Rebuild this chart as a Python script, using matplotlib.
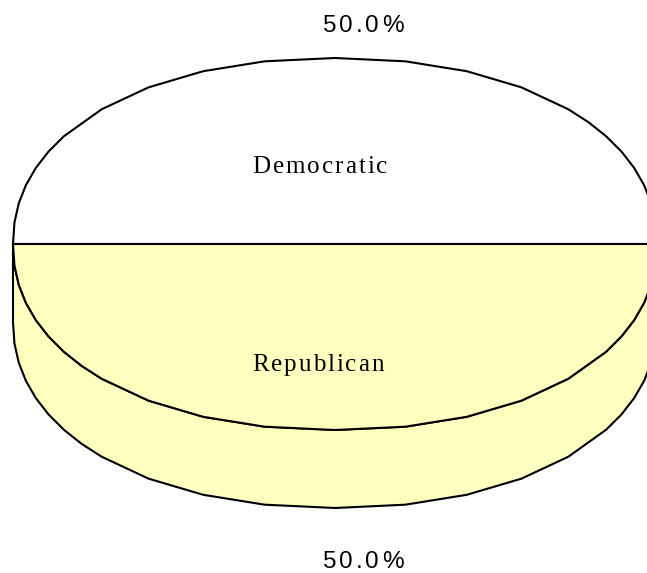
import numpy as np
import matplotlib
matplotlib.use('Agg')
import matplotlib.pyplot as plt
from matplotlib.patches import Polygon
from matplotlib.font_manager import FontProperties, get_font, findfont

# ---- data ----
labels = ['Democratic', 'Republican']
values = [50.0, 50.0]
colors = ['#FFFFFF', '#FFFFC0']

W, H = 647, 573
fig = plt.figure(figsize=(W / 100, H / 100), dpi=100)
ax = fig.add_axes([0, 0, 1, 1])
ax.set_xlim(0, W)
ax.set_ylim(H, 0)
ax.axis('off')

cx, cy = 335, 244
a, b = 322, 186
depth = 78
expo = 0.93          # slight superellipse, as in the reference rendering
lw = 1.5


def sample_angles(t0, t1):
    ts = [t0]
    t = t0
    while True:
        c = abs(np.cos(np.radians(t)))
        step = 5.625 if c > 0.8 else 11.25
        t = (np.floor(t / step + 1e-9) + 1) * step
        if t >= t1 - 1e-9:
            break
        ts.append(t)
    ts.append(t1)
    return np.radians(ts)


def arc(t0, t1, dy=0.0):
    ts = sample_angles(t0, t1)
    c, s = np.cos(ts), np.sin(ts)
    x = cx + a * np.sign(c) * np.abs(c) ** expo
    y = cy - b * np.sign(s) * np.abs(s) ** expo + dy
    return np.column_stack([x, y])


total = sum(values)
angles = np.concatenate([[0], np.cumsum(values) / total * 360.0])

# side walls (visible front part: angles 180..360)
for i in range(len(values)):
    t0, t1 = angles[i], angles[i + 1]
    s0, s1 = max(t0, 180), min(t1, 360)
    if s1 > s0:
        top = arc(s0, s1)
        bot = arc(s0, s1, depth)[::-1]
        ax.add_patch(Polygon(np.vstack([top, bot]), closed=True,
                             facecolor=colors[i], edgecolor='black',
                             lw=lw, joinstyle='miter'))

# top faces
for i in range(len(values)):
    t0, t1 = angles[i], angles[i + 1]
    pts = np.vstack([[cx, cy], arc(t0, t1)])
    ax.add_patch(Polygon(pts, closed=True, facecolor=colors[i],
                         edgecolor='black', lw=lw, joinstyle='miter'))


def spaced(xc, yb, s, fp, spacing):
    f = get_font(findfont(fp))
    f.set_size(fp.get_size_in_points(), 100)
    adv = []
    for ch in s:
        g = f.load_char(ord(ch))
        adv.append(g.linearHoriAdvance / 65536)
    tot = sum(adv) + spacing * (len(s) - 1)
    x = xc - tot / 2
    for ch, w in zip(s, adv):
        ax.text(x, yb, ch, fontproperties=fp, ha='left', va='baseline',
                color='black')
        x += w + spacing


fp_lab = FontProperties(family='Liberation Serif', size=18)
fp_pct = FontProperties(family='Liberation Sans', size=17.5)

lab_pos = [(320, 173), (318, 371)]
pct_pos = [(363, 31.5), (363, 567.5)]
for i in range(len(values)):
    spaced(lab_pos[i][0], lab_pos[i][1], labels[i], fp_lab, 2.0)
    spaced(pct_pos[i][0], pct_pos[i][1], f'{values[i] / total * 100:.1f}%',
           fp_pct, 3.0)

fig.savefig('out.png', dpi=100)
